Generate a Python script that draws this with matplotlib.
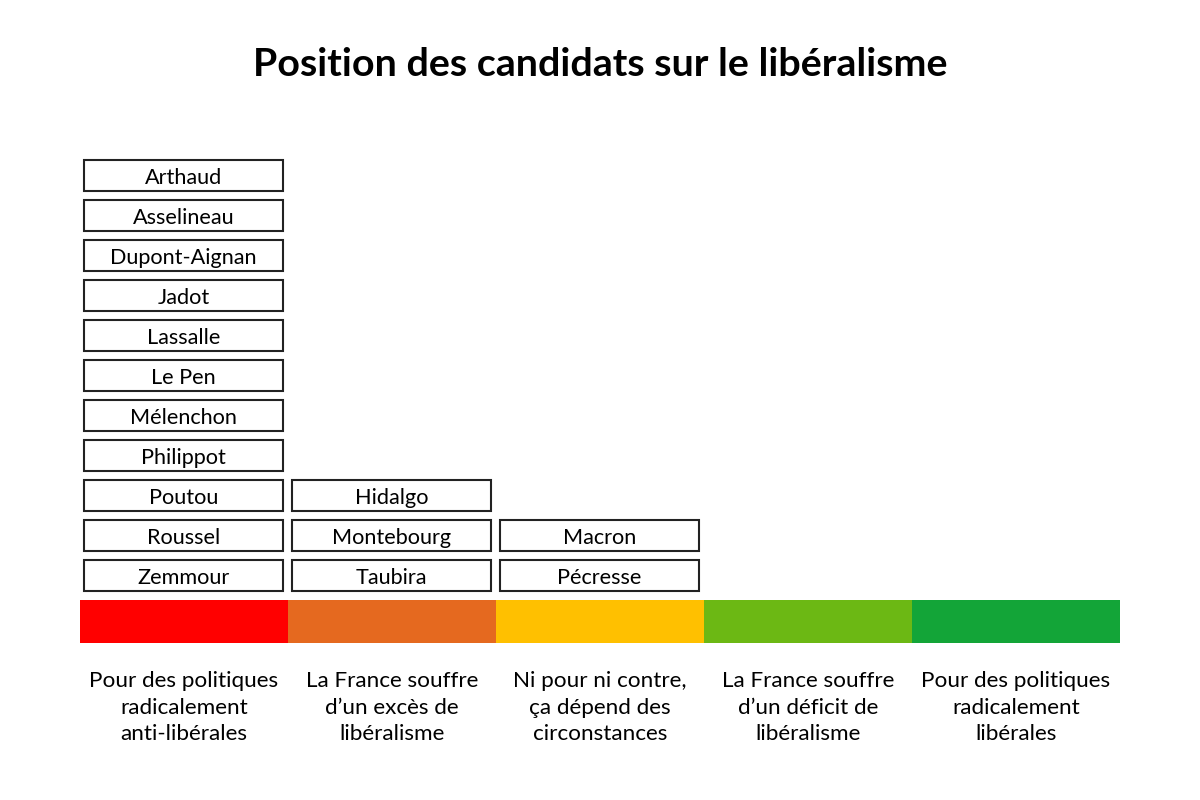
import matplotlib.pyplot as plt
from matplotlib.patches import Rectangle

plt.rcParams['font.family'] = ['Lato', 'DejaVu Sans']

title = "Position des candidats sur le libéralisme"

categories = [
    "Pour des politiques\nradicalement\nanti-libérales",
    "La France souffre\nd\u2019un excès de\nlibéralisme",
    "Ni pour ni contre,\nça dépend des\ncirconstances",
    "La France souffre\nd\u2019un déficit de\nlibéralisme",
    "Pour des politiques\nradicalement\nlibérales",
]
colors = ["#FF0000", "#E5691F", "#FFC000", "#6CB814", "#13A538"]

candidates = [
    ["Arthaud", "Asselineau", "Dupont-Aignan", "Jadot", "Lassalle", "Le Pen",
     "Mélenchon", "Philippot", "Poutou", "Roussel", "Zemmour"],
    ["Hidalgo", "Montebourg", "Taubira"],
    ["Macron", "Pécresse"],
    [],
    [],
]

fig = plt.figure(figsize=(12, 8), dpi=100)
ax = fig.add_axes([0, 0, 1, 1])
ax.set_xlim(0, 1200)
ax.set_ylim(800, 0)
ax.axis('off')

seg_w = 208
x0 = 80
bar_top, bar_h = 600, 43
box_w, box_h, step = 199, 31, 40

for i, (label, col) in enumerate(zip(categories, colors)):
    left = x0 + i * seg_w
    ax.add_patch(Rectangle((left, bar_top), seg_w, bar_h, facecolor=col,
                           edgecolor='none'))
    ax.text(left + seg_w / 2, 671, label, ha='center', va='top',
            fontsize=16.2, color='#000000', linespacing=1.42)

    names = candidates[i]
    n = len(names)
    for j, name in enumerate(names):
        row = n - 1 - j
        bottom = 591 - row * step
        bx = left + 4
        ax.add_patch(Rectangle((bx, bottom - box_h), box_w, box_h,
                               facecolor='white', edgecolor='#222222', lw=1.5))
        ax.text(bx + box_w / 2, bottom - box_h / 2 + 3, name, ha='center',
                va='center', fontsize=15.6, color='#000000')

ax.text(600, 64, title, ha='center', va='center', fontsize=28.4,
        fontweight='bold', color='#000000')

fig.savefig("out.png", dpi=100, facecolor='white')
